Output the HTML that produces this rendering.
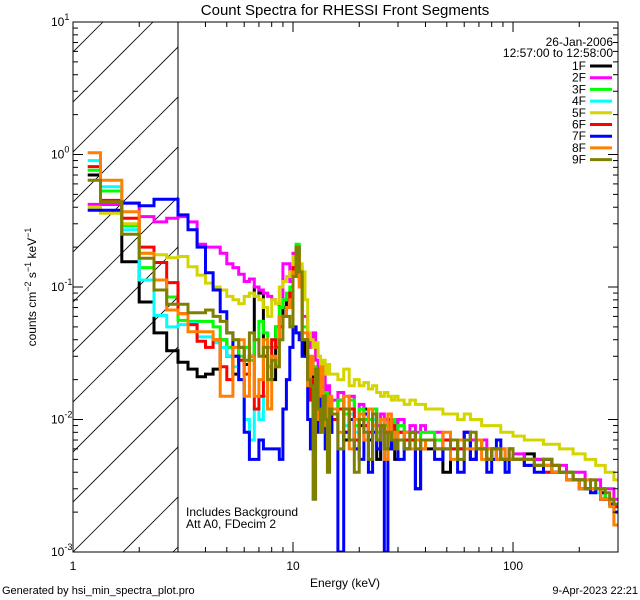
<!DOCTYPE html>
<html><head><meta charset="utf-8"><style>
body{margin:0;background:#fff;}
svg{display:block;font-family:"Liberation Sans",sans-serif;}
</style></head><body>
<svg id="chart" width="640" height="600" xmlns="http://www.w3.org/2000/svg">
<rect width="640" height="600" fill="#fff"/>
<text x="345" y="15" font-size="15" text-anchor="middle">Count Spectra for RHESSI Front Segments</text>
<defs><clipPath id="plotclip"><rect x="73" y="22" width="545" height="530"/></clipPath>
<clipPath id="hatchclip"><rect x="73" y="22" width="105" height="530"/></clipPath></defs>
<g id="hatch" clip-path="url(#hatchclip)"></g>
<line x1="178" y1="22" x2="178" y2="552" stroke="#000" stroke-width="1"/>
<g id="series" clip-path="url(#plotclip)"></g>
<rect x="73" y="22" width="545" height="530" fill="none" stroke="#000" stroke-width="1"/>
<g id="axes"></g>
<text x="345" y="587" font-size="12" text-anchor="middle">Energy (keV)</text>
<text transform="translate(36,287) rotate(-90)" font-size="12" text-anchor="middle">counts cm<tspan dy="-5" font-size="9">−2</tspan><tspan dy="5"> s</tspan><tspan dy="-5" font-size="9">−1</tspan><tspan dy="5"> keV</tspan><tspan dy="-5" font-size="9">−1</tspan></text>
<text x="613" y="46" font-size="12" text-anchor="end">26-Jan-2006</text>
<text x="613" y="57" font-size="12" text-anchor="end">12:57:00 to 12:58:00</text>
<g id="legend"></g>
<text x="186" y="516" font-size="12">Includes Background</text>
<text x="186" y="528" font-size="12">Att A0, FDecim 2</text>
<text x="2" y="594" font-size="11">Generated by hsi_min_spectra_plot.pro</text>
<text x="638" y="594" font-size="11" text-anchor="end">9-Apr-2023 22:21</text>
</svg>
<script>
const NS="http://www.w3.org/2000/svg";
const seriesNames=["1F","2F","3F","4F","5F","6F","7F","8F","9F"];
const seriesColors=["#000000","#ff00ff","#00ff00","#00ffff","#d4d400","#ff0000","#0000ff","#ff8000","#808000"];
const xTickValues=[1,10,100];
const xTickLabels=["1","10","100"];
const yTickExps=[1,0,-1,-2,-3];
// bin edges in keV
const edges=[1.1667];
for(let i=0;i<=41;i++)edges.push(1.3333+i/3);
for(let e=16;e<=30;e++)edges.push(e);
for(let e=32;e<=40;e+=2)edges.push(e);
for(let e=44;e<=100;e+=4)edges.push(e);
for(let e=112.5;e<=300.1;e+=12.5)edges.push(e);
// values in units of 1e-3 counts cm^-2 s^-1 keV^-1
const s1F=[700,420,155,77,45,33,27,24,21,22,24,40,30,22,35,26,30,100,90,30,25,20,50,60,70,80,90,150,200,120,40,
30,20,25,12,18,15,10,14,9,12,8,
10,14,7,11,6,9,12,7,10,5,9,8,6,10,5, 8,6,7,3,7, 6,7,4,7,6,8,5,7,6,5,6,6,5,5,6, 5,5.5,5,4.5,4.5,4,4,3.5,3.5,3,3,3,2.8,2.5,2.5,2.2];
const s2F=[420,420,430,340,310,330,340,310,210,200,200,180,150,140,125,110,115,100,95,90,85,80,75,70,150,150,110,180,200,140,60,
60,35,40,45,28,20,25,22,16,18,14,
14,16,12,15,10,13,11,10,12,9,11,10,9,10,9, 10,8,9,8,9, 8,8,7,7,7,8,7,7,7,6,6,6,6,5,6, 5.5,5,5,5,4.5,4.5,4,4,4,3.5,3.5,3.5,3,3,3,2.5];
const s3F=[760,530,290,140,113,84,56,55,55,55,50,40,35,40,30,35,28,40,55,45,35,40,50,70,80,90,100,150,210,140,50,
50,30,28,25,20,18,22,15,16,13,14,
12,14,11,14,9,12,10,10,12,8,10,9,9,10,8, 9,8,8,7,8, 8,7,7,6,7,7,6,7,6,6,6,5,5,5,5, 5,5,4.5,4.5,4,4,4,3.5,3.5,3.5,3,3,3,2.5,2.5,2.2];
const s4F=[900,570,270,113,61,50,52,53,42,42,38,35,30,25,20,10,7,12,10,15,25,35,40,50,60,70,80,130,180,110,40,
40,25,20,18,14,18,12,14,10,12,10,
10,12,9,11,8,10,9,8,10,7,9,8,8,9,7, 8,7,7,6,7, 7,6,6,6,6,6,5,6,6,5,5,5,5,4,5, 5,4.5,4.5,4,4,4,3.5,3.5,3,3,3,2.8,2.5,2.5,2.3,2];
const s5F=[400,360,300,180,175,166,170,142,123,107,100,95,85,80,75,85,90,85,80,70,60,80,75,100,110,120,130,170,180,150,130,
80,45,40,35,38,30,25,28,22,26,22,
22,20,24,18,20,18,19,17,18,16,15,16,15,14,15, 14,13,14,13,13, 12,12,11,11,10,11,10,10,9,9,9,9,8,8,8, 7.5,7,7,6.5,6.5,6,6,5.5,5.5,5,5,4.5,4.5,4,4,3.5];
const s6F=[810,450,330,200,153,108,63,52,39,35,40,25,20,30,28,22,30,12,15,30,20,40,35,50,60,70,90,140,180,120,40,
40,25,14,20,16,12,14,15,10,12,10,
10,12,8,12,7,10,9,8,11,7,9,8,8,9,8, 8,7,7,6,7, 7,6,7,6,6,7,5,6,6,5,6,5,5,5,5, 5,4.5,4.5,4,4,4,3.5,3.5,3.5,3,3,3,2.5,2.5,2.3,2.2];
const s7F=[380,380,430,410,460,460,350,270,200,128,95,65,45,30,20,8,5,5,7,6,6,6,6,5,12,20,35,50,45,40,30,
30,10,6,18,12,8,15,10,6,11,8,
12,1,8,10,6,5,11,4,8,6,9,1,10,6,7, 5,6,8,3,6, 7,5,6,7,4,8,5,6,6,4,5,7,5,4,5, 5,4.5,4,5,4,4,3.5,3.5,3,3,2.8,3,2.5,2.5,2.3,2];
const s8F=[1030,640,370,180,113,67,63,46,46,46,40,15,15,35,40,15,30,15,20,40,12,30,25,60,60,70,80,130,170,100,45,
45,18,30,22,10,15,25,9,13,8,15,
12,8,15,6,10,11,7,12,9,7,10,5,11,7,8, 7,8,6,7,6, 7,6,8,5,7,6,6,7,5,6,6,5,6,5,5, 5,5,4.5,4.5,4,4,3.5,3.5,3,3.5,3,3,2.5,2.5,2.2,1.6];
const s9F=[640,440,250,165,95,74,74,64,64,67,60,55,45,40,35,28,45,40,30,35,20,28,25,40,60,60,50,120,200,130,40,
40,20,18,2.5,24,12,8,15,10,4,12,
11,6,12,7,4,10,8,5,11,7,9,6,8,7,6, 7,6,8,6,7, 7,6,6,7,5,7,8,6,6,5,6,6,5,5,6, 5,5,4.5,5,4.5,4,4,3.5,3.5,3,3.5,3,3,2.8,2.5,2.3];
const allSeries=[s1F,s2F,s3F,s4F,s5F,s6F,s7F,s8F,s9F];

const X0=73,X1=618,Y0=22,Y1=552;
const xmin=Math.log10(1),xmax=Math.log10(300),ymin=-3,ymax=1;
function xScale(e){return X0+(Math.log10(e)-xmin)/(xmax-xmin)*(X1-X0);}
function yScale(v){return Y1-(Math.log10(v)-ymin)/(ymax-ymin)*(Y1-Y0);}

const hg=document.getElementById('hatch');
for(let k=-12;k<14;k++){
  const l=document.createElementNS(NS,'line');
  const bx=X0+k*50;
  l.setAttribute('x1',bx);l.setAttribute('y1',Y1);l.setAttribute('x2',bx+530);l.setAttribute('y2',Y0);
  l.setAttribute('stroke','#000');l.setAttribute('stroke-width','0.8');
  
  
  hg.appendChild(l);
}
const sg=document.getElementById('series');
allSeries.forEach((vals,si)=>{
  let d='';
  vals.forEach((v,i)=>{
    const y=yScale(v/1000).toFixed(1);
    const xa=xScale(edges[i]).toFixed(1),xb=xScale(edges[i+1]).toFixed(1);
    d+=(i===0?'M':'L')+xa+','+y+'L'+xb+','+y;
  });
  const p=document.createElementNS(NS,'path');
  p.setAttribute('d',d);p.setAttribute('fill','none');
  p.setAttribute('stroke',seriesColors[si]);p.setAttribute('stroke-width','3');
  
  
  sg.appendChild(p);
});
const ag=document.getElementById('axes');
function ln(x1,y1,x2,y2,name){
  const l=document.createElementNS(NS,'line');
  l.setAttribute('x1',x1);l.setAttribute('y1',y1);l.setAttribute('x2',x2);l.setAttribute('y2',y2);
  l.setAttribute('stroke','#000');l.setAttribute('stroke-width','1');
  
  
  ag.appendChild(l);
}
for(let dec=0;dec<3;dec++){
  for(let m=1;m<10;m++){
    const e=m*Math.pow(10,dec);
    if(e>300)break;
    const x=xScale(e),len=(m===1)?10:5;
    ln(x,Y1,x,Y1-len,'x-tick');ln(x,Y0,x,Y0+len,'x-tick-top');
  }
}
xTickValues.forEach((v,i)=>{
  const t=document.createElementNS(NS,'text');
  t.setAttribute('x',xScale(v));t.setAttribute('y',570);t.setAttribute('font-size','12');t.setAttribute('text-anchor','middle');
  t.textContent=xTickLabels[i];
  
  
  ag.appendChild(t);
});
for(let ex=-3;ex<1;ex++){
  for(let m=1;m<10;m++){
    const y=yScale(m*Math.pow(10,ex)),len=(m===1)?10:5;
    ln(X0,y,X0+len,y,'y-tick');ln(X1,y,X1-len,y,'y-tick-right');
  }
}
ln(X0,Y0,X0+10,Y0,'y-tick');ln(X1,Y0,X1-10,Y0,'y-tick-right');
yTickExps.forEach(ex=>{
  const t=document.createElementNS(NS,'text');
  const y=yScale(Math.pow(10,ex));
  t.setAttribute('x',51);t.setAttribute('y',y+4);t.setAttribute('font-size','12');
  t.innerHTML='10<tspan dy="-6" font-size="9">'+ex+'</tspan>';
  
  
  ag.appendChild(t);
});
const lg=document.getElementById('legend');
seriesNames.forEach((n,i)=>{
  const y=70+i*11.7;
  const t=document.createElementNS(NS,'text');
  t.setAttribute('x',586);t.setAttribute('y',y);t.setAttribute('font-size','12');t.setAttribute('text-anchor','end');
  t.textContent=n;
  
  
  lg.appendChild(t);
  const l=document.createElementNS(NS,'line');
  l.setAttribute('x1',590);l.setAttribute('x2',612);l.setAttribute('y1',y-4);l.setAttribute('y2',y-4);
  l.setAttribute('stroke',seriesColors[i]);l.setAttribute('stroke-width','3');
  
  
  lg.appendChild(l);
});
</script>
</body></html>
